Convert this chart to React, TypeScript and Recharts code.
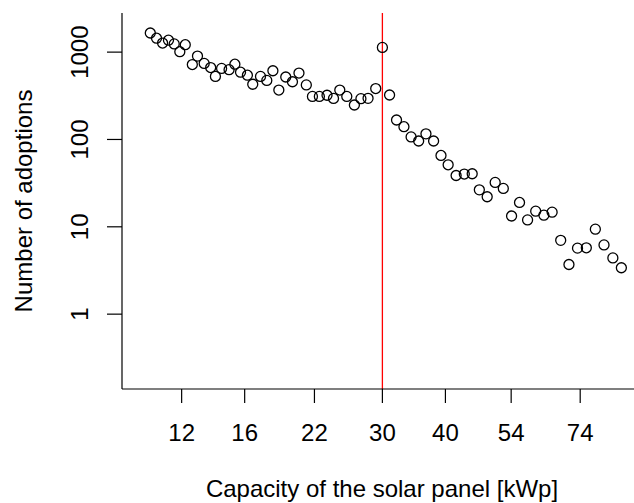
import React from "react";
import {
  ScatterChart,
  Scatter,
  XAxis,
  YAxis,
  ReferenceLine,
  Label,
} from "recharts";

// capacity of the panel (kWp) and number of adoptions
const capacity = [
  10.4, 10.7, 11.0, 11.3, 11.6, 11.9, 12.2, 12.6, 12.9, 13.3,
  13.7, 14.0, 14.4, 14.9, 15.3, 15.7, 16.2, 16.6, 17.2, 17.7,
  18.2, 18.7, 19.3, 19.9, 20.5, 21.2, 21.8, 22.5, 23.3, 24.0,
  24.7, 25.5, 26.4, 27.2, 28.1, 29.1, 30.0, 31.0, 32.0, 33.1,
  34.2, 35.4, 36.6, 37.9, 39.2, 40.5, 42.0, 43.6, 45.2, 46.7,
  48.4, 50.2, 52.1, 54.1, 56.1, 58.2, 60.4, 62.7, 65.1, 67.7,
  70.3, 73.1, 76.1, 79.3, 82.5, 85.9, 89.3,
];

const adoptions = [
  1655, 1443, 1271, 1369, 1241, 1011, 1216, 721, 900, 742,
  666, 527, 651, 629, 727, 589, 544, 429, 527, 474,
  612, 368, 519, 458, 576, 421, 311, 311, 321, 295,
  368, 311, 248, 293, 296, 383, 1132, 323, 167, 140,
  107, 96, 116, 96, 65.6, 51.3, 38.7, 40.2, 40.5, 26.5,
  22.1, 32.2, 27.5, 13.3, 19.0, 12.0, 15.1, 13.6, 14.7, 7.0,
  3.7, 5.7, 5.75, 9.4, 6.2, 4.4, 3.4,
];

const xTicks = [12, 16, 22, 30, 40, 54, 74];
const yTicks = [1, 10, 100, 1000];
const cutoff = 30;

const data = capacity.map((c, i) => ({ x: c, y: adoptions[i] }));

const FONT = "'Liberation Sans', Arial, Helvetica, sans-serif";
const PLOT_BOTTOM = 389;

function XTick(props: any) {
  const { x, payload } = props;
  return (
    <text x={x} y={PLOT_BOTTOM + 52} textAnchor="middle" fontSize={24} fontFamily={FONT} fill="#000">
      {payload.value}
    </text>
  );
}

function YTick(props: any) {
  const { y, payload } = props;
  const bx = 88;
  return (
    <text
      x={bx}
      y={y}
      transform={`rotate(-90, ${bx}, ${y})`}
      textAnchor="middle"
      fontSize={24}
      fontFamily={FONT}
      fill="#000"
    >
      {payload.value}
    </text>
  );
}

function OpenCircle(props: any) {
  const { cx, cy } = props;
  return <circle cx={cx} cy={cy} r={5} fill="none" stroke="#000" strokeWidth={1.3} />;
}

export default function App() {
  return (
    <div style={{ position: "absolute", left: 0, top: 0, background: "#fff" }}>
      <ScatterChart width={634} height={503} margin={{ top: 13, right: 0, bottom: 0, left: 0 }}>
        <XAxis
          type="number"
          dataKey="x"
          scale="log"
          domain={[9.14, 94.6]}
          allowDataOverflow
          ticks={xTicks}
          tick={<XTick />}
          tickSize={14}
          height={114}
          axisLine={{ stroke: "#000", strokeWidth: 1.2 }}
          tickLine={{ stroke: "#000", strokeWidth: 1.2 }}
        >
          <Label
            content={() => (
              <text x={382} y={497} textAnchor="middle" fontSize={24} fontFamily={FONT} fill="#000">
                Capacity of the solar panel [kWp]
              </text>
            )}
          />
        </XAxis>
        <YAxis
          type="number"
          dataKey="y"
          scale="log"
          domain={[0.139, 2805]}
          allowDataOverflow
          ticks={yTicks}
          tick={<YTick />}
          tickSize={15}
          width={122}
          axisLine={{ stroke: "#000", strokeWidth: 1.2 }}
          tickLine={{ stroke: "#000", strokeWidth: 1.2 }}
        >
          <Label
            content={() => (
              <text
                x={32}
                y={201}
                transform="rotate(-90, 32, 201)"
                textAnchor="middle"
                fontSize={24}
                fontFamily={FONT}
                fill="#000"
              >
                Number of adoptions
              </text>
            )}
          />
        </YAxis>
        <ReferenceLine x={cutoff} stroke="#ff0000" strokeWidth={1.3} />
        <Scatter data={data} shape={<OpenCircle />} isAnimationActive={false} />
      </ScatterChart>
    </div>
  );
}
